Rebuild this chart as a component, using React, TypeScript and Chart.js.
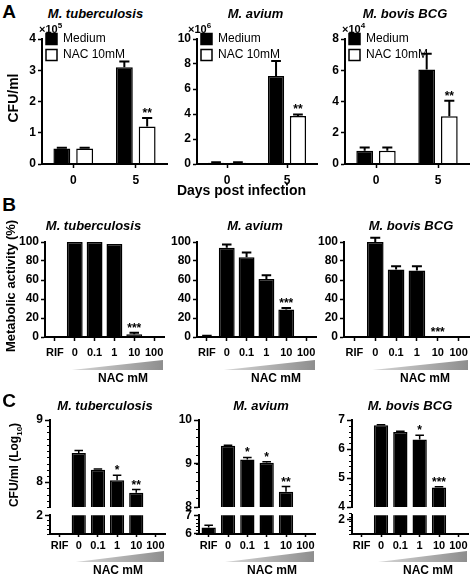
import React, { useEffect, useRef } from 'react';
import { Chart, registerables } from 'chart.js';

const FONT = "'Liberation Sans', Arial, Helvetica, sans-serif";

// ---------- Panel A data (CFU/ml, scaled units) ----------
const dayLabels = ['0', '5'];
const seriesNames = ['Medium', 'NAC 10mM'];
const mtbA_Medium = [0.5, 3.1];
const mtbA_MediumErr = [0.02, 0.18];
const mtbA_Nac = [0.5, 1.2];
const mtbA_NacErr = [0.02, 0.27];
const mtbA_NacSig = ['', '**'];
const aviumA_Medium = [0.1, 7.05];
const aviumA_MediumErr = [0.05, 1.2];
const aviumA_Nac = [0.1, 3.85];
const aviumA_NacErr = [0.05, 0.12];
const aviumA_NacSig = ['', '**'];
const bovisA_Medium = [0.85, 6.05];
const bovisA_MediumErr = [0.2, 1.0];
const bovisA_Nac = [0.85, 3.05];
const bovisA_NacErr = [0.2, 1.0];
const bovisA_NacSig = ['', '**'];
const scaleExpA = ['5', '6', '4'];

// ---------- Panel B data (metabolic activity %) ----------
const nacLabels = ['RIF', '0', '0.1', '1', '10', '100'];
const mtbB = [null, 100, 100, 98, 3, null];
const mtbBErr = [0, 0, 0, 0, 1.5, 0];
const mtbBSig = ['', '', '', '', '***', ''];
const aviumB = [1, 94, 84, 61, 29, null];
const aviumBErr = [0.3, 3.5, 5, 4, 1.5, 0];
const aviumBSig = ['', '', '', '', '***', ''];
const bovisB = [null, 100, 71, 70, 0, null];
const bovisBErr = [0, 4.5, 3.5, 4.5, 0, 0];
const bovisBSig = ['', '', '', '', '***', ''];

// ---------- Panel C data (CFU/ml, log10) ----------
const mtbC = [null, 8.47, 8.2, 8.03, 7.83, null];
const mtbCErr = [0, 0.04, 0.01, 0.08, 0.05, 0];
const mtbCSig = ['', '', '', '*', '**', ''];
const aviumC = [6.35, 9.41, 9.09, 9.02, 8.35, null];
const aviumCErr = [0.12, 0.01, 0.05, 0.02, 0.12, 0];
const aviumCSig = ['', '', '*', '*', '**', ''];
const bovisC = [null, 6.82, 6.59, 6.33, 4.67, null];
const bovisCErr = [0, 0.02, 0.02, 0.14, 0.03, 0];
const bovisCSig = ['', '', '', '*', '***', ''];

// ---------- plugins ----------
const errBarsPlugin = {
  id: 'errBars',
  afterDatasetsDraw(chart: any, _a: any, opts: any) {
    const sets = (opts && opts.sets) || [];
    const ctx = chart.ctx;
    const y = chart.scales.y;
    ctx.save();
    sets.forEach((s: any, di: number) => {
      const meta = chart.getDatasetMeta(di);
      const data = chart.data.datasets[di].data;
      meta.data.forEach((el: any, j: number) => {
        const v = data[j];
        if (v === null || v === undefined) return;
        if (v < y.min - 1e-9 || v > y.max + 1e-9) return;
        const e = s.err ? s.err[j] || 0 : 0;
        const x = el.x;
        const yv = y.getPixelForValue(v);
        const yt = y.getPixelForValue(v + e);
        if (e > 0) {
          ctx.strokeStyle = '#000';
          ctx.lineWidth = opts.lineWidth || 2;
          ctx.beginPath();
          ctx.moveTo(x, yv);
          ctx.lineTo(x, yt);
          const cw = (el.width * (opts.capRatio || 0.6)) / 2;
          ctx.moveTo(x - cw, yt);
          ctx.lineTo(x + cw, yt);
          ctx.stroke();
        }
        const sig = s.sig ? s.sig[j] : '';
        if (sig) {
          ctx.fillStyle = '#000';
          ctx.font = `bold ${opts.sigSize || 12}px ${FONT}`;
          ctx.textAlign = 'center';
          ctx.textBaseline = 'alphabetic';
          ctx.fillText(sig, x, yt - 1);
        }
      });
    });
    ctx.restore();
  },
};

const minorTicksPlugin = {
  id: 'minorTicks',
  afterDraw(chart: any, _a: any, opts: any) {
    if (!opts || !opts.step) return;
    const y = chart.scales.y;
    const ctx = chart.ctx;
    const x0 = chart.chartArea.left;
    const n = Math.round((y.max - y.min) / opts.step);
    ctx.save();
    ctx.strokeStyle = '#000';
    ctx.lineWidth = 1;
    ctx.beginPath();
    for (let i = 0; i <= n; i++) {
      const py = Math.round(y.getPixelForValue(y.min + i * opts.step)) + 0.5;
      ctx.moveTo(x0 - (opts.len || 3), py);
      ctx.lineTo(x0, py);
    }
    ctx.stroke();
    ctx.restore();
  },
};

const wedgePlugin = {
  id: 'wedge',
  afterDraw(chart: any, _a: any, opts: any) {
    if (!opts || !opts.show) return;
    const ctx = chart.ctx;
    const xs = chart.scales.x;
    const x0 = xs.getPixelForTick(opts.fromTick) - opts.tipOffset;
    const x1 = chart.chartArea.right - 1;
    const yb = chart.chartArea.bottom + opts.bottomOffset;
    const yt = yb - opts.height;
    const g = ctx.createLinearGradient(x0, 0, x1, 0);
    g.addColorStop(0, '#d6d6d6');
    g.addColorStop(1, '#8e8e8e');
    ctx.save();
    ctx.fillStyle = g;
    ctx.beginPath();
    ctx.moveTo(x0, yb);
    ctx.lineTo(x1, yb);
    ctx.lineTo(x1, yt);
    ctx.closePath();
    ctx.fill();
    ctx.restore();
  },
};

Chart.register(...registerables, errBarsPlugin, minorTicksPlugin, wedgePlugin);

const YW = 34;
const PR = 5;

function place(axisX: number, right: number, top: number, bottom: number, padTop: number, xh: number, padBottom: number) {
  return {
    x: axisX - YW,
    y: top - padTop,
    w: right - axisX + YW + PR,
    h: bottom - top + padTop + xh + padBottom,
  };
}

function makeConfig(p: any): any {
  return {
    type: 'bar',
    data: {
      labels: p.labels,
      datasets: p.series.map((s: any) => ({
        label: s.label,
        data: s.data,
        backgroundColor: s.fill,
        borderColor: '#000',
        borderWidth: 1.5,
        borderSkipped: 'start',
        clip: p.clip,
        barPercentage: p.barPct,
        categoryPercentage: p.catPct,
      })),
    },
    options: {
      responsive: false,
      animation: false,
      devicePixelRatio: 1,
      events: [],
      layout: { padding: { left: 0, right: PR, top: p.padTop, bottom: p.padBottom } },
      scales: {
        x: {
          type: 'category',
          offset: true,
          display: p.xh > 0,
          afterFit: p.xh > 0 ? (s: any) => { s.height = p.xh; } : undefined,
          border: { display: true, color: '#000', width: 2, z: 1 },
          grid: { offset: false, drawOnChartArea: false, drawTicks: true, tickLength: p.xTickLen, tickColor: '#000', tickWidth: 1.5, color: '#000' },
          ticks: { color: '#000', font: { family: FONT, size: p.xFont, weight: 'bold' }, padding: p.xPad, maxRotation: 0, autoSkip: false },
        },
        y: {
          type: 'linear',
          min: p.yMin,
          max: p.yMax,
          afterFit: (s: any) => { s.width = YW; },
          border: { display: true, color: '#000', width: 2 },
          grid: { drawOnChartArea: false, drawTicks: true, tickLength: p.yTickLen, tickColor: '#000', tickWidth: 1.5, color: '#000' },
          ticks: { stepSize: p.yStep, includeBounds: false, color: '#000', font: { family: FONT, size: 12, weight: 'bold' }, padding: 2, autoSkip: false },
        },
      },
      plugins: {
        legend: p.legend
          ? {
              display: true,
              position: 'chartArea',
              align: 'start',
              labels: { boxWidth: 11, boxHeight: 11, padding: 4, color: '#000', font: { family: FONT, size: 12 } },
            }
          : { display: false },
        title: { display: false },
        tooltip: { enabled: false },
        errBars: { sets: p.series.map((s: any) => ({ err: s.err, sig: s.sig })), lineWidth: p.errLw || 2, capRatio: 0.6, sigSize: 12 },
        minorTicks: { step: p.minorStep || 0, len: 3 },
        wedge: p.wedge || { show: false },
      },
    },
  };
}

function aConfig(med: number[], medErr: number[], nac: number[], nacErr: number[], nacSig: string[], yMax: number, yStep: number) {
  return makeConfig({
    labels: dayLabels,
    series: [
      { label: seriesNames[0], data: med, fill: '#000', err: medErr },
      { label: seriesNames[1], data: nac, fill: '#fff', err: nacErr, sig: nacSig },
    ],
    yMin: 0, yMax, yStep, padTop: 10, padBottom: 2, xh: 24, xFont: 12, xTickLen: 4, xPad: 5, yTickLen: 4,
    legend: true, barPct: 0.74, catPct: 0.73,
  });
}

const wedgeB = { show: true, fromTick: 1, tipOffset: 3, bottomOffset: 33, height: 10 };
function bConfig(vals: any[], err: number[], sig: string[]) {
  return makeConfig({
    labels: nacLabels,
    series: [{ label: 'activity', data: vals, fill: '#000', err, sig }],
    yMin: 0, yMax: 100, yStep: 20, padTop: 10, padBottom: 16, xh: 22, xFont: 11, xTickLen: 4, xPad: 5, yTickLen: 4,
    legend: false, barPct: 0.8, catPct: 1, wedge: wedgeB,
  });
}

const wedgeC = { show: true, fromTick: 1, tipOffset: 3, bottomOffset: 28, height: 11 };
function cUpper(vals: any[], err: number[], sig: string[], yMin: number, yMax: number, minor: number) {
  return makeConfig({
    labels: nacLabels,
    series: [{ label: 'cfu', data: vals, fill: '#000', err, sig }],
    yMin, yMax, yStep: 1, padTop: 10, padBottom: 10, xh: 0, xFont: 11, xTickLen: 3, xPad: 2, yTickLen: 5,
    legend: false, barPct: 0.74, catPct: 1, clip: 0, minorStep: minor, errLw: 1.5,
  });
}
function cLower(vals: any[], err: number[], yMin: number, yMax: number, minor: number) {
  return makeConfig({
    labels: nacLabels,
    series: [{ label: 'cfu', data: vals, fill: '#000', err }],
    yMin, yMax, yStep: 1, padTop: 8, padBottom: 12, xh: 19, xFont: 11, xTickLen: 3, xPad: 2, yTickLen: 5,
    legend: false, barPct: 0.74, catPct: 1, clip: 0, minorStep: minor, errLw: 1.5, wedge: wedgeC,
  });
}

const specs: { g: any; cfg: () => any }[] = [
  { g: place(42, 167, 39, 164, 10, 24, 2), cfg: () => aConfig(mtbA_Medium, mtbA_MediumErr, mtbA_Nac, mtbA_NacErr, mtbA_NacSig, 4, 1) },
  { g: place(197, 317, 39, 164, 10, 24, 2), cfg: () => aConfig(aviumA_Medium, aviumA_MediumErr, aviumA_Nac, aviumA_NacErr, aviumA_NacSig, 10, 2) },
  { g: place(345, 469, 39, 164, 10, 24, 2), cfg: () => aConfig(bovisA_Medium, bovisA_MediumErr, bovisA_Nac, bovisA_NacErr, bovisA_NacSig, 8, 2) },
  { g: place(45, 164, 242, 337, 10, 22, 16), cfg: () => bConfig(mtbB, mtbBErr, mtbBSig) },
  { g: place(197, 316, 242, 337, 10, 22, 16), cfg: () => bConfig(aviumB, aviumBErr, aviumBSig) },
  { g: place(344, 469, 242, 337, 10, 22, 16), cfg: () => bConfig(bovisB, bovisBErr, bovisBSig) },
  { g: place(50, 165, 420, 507, 10, 0, 10), cfg: () => cUpper(mtbC, mtbCErr, mtbCSig, 7.6, 9, 0.1) },
  { g: place(50, 165, 514, 534, 8, 19, 12), cfg: () => cLower(mtbC, mtbCErr, 1.6, 2, 0.1) },
  { g: place(199, 315, 420, 507, 10, 0, 10), cfg: () => cUpper(aviumC, aviumCErr, aviumCSig, 8, 10, 0.2) },
  { g: place(199, 315, 514, 534, 8, 19, 12), cfg: () => cLower(aviumC, aviumCErr, 6, 7, 0.2) },
  { g: place(352, 468, 420, 507, 10, 0, 10), cfg: () => cUpper(bovisC, bovisCErr, bovisCSig, 4, 7, 0.2) },
  { g: place(352, 468, 514, 534, 8, 19, 12), cfg: () => cLower(bovisC, bovisCErr, 1.3, 2.2, 0.2) },
];

function Txt(props: { cx: number; cy: number; size: number; italic?: boolean; rot?: boolean; children: any }) {
  return (
    <div
      style={{
        position: 'absolute',
        left: props.cx,
        top: props.cy,
        transform: `translate(-50%, -50%)${props.rot ? ' rotate(-90deg)' : ''}`,
        fontFamily: FONT,
        fontWeight: 'bold',
        fontStyle: props.italic ? 'italic' : 'normal',
        fontSize: props.size,
        lineHeight: 1,
        whiteSpace: 'nowrap',
        color: '#000',
        zIndex: 2,
      }}
    >
      {props.children}
    </div>
  );
}

function Exp(props: { x: number; exp: string }) {
  return (
    <div style={{ position: 'absolute', left: props.x, top: 22, fontFamily: FONT, fontWeight: 'bold', fontSize: 11, lineHeight: 1, whiteSpace: 'nowrap', zIndex: 2 }}>
      ×10<sup style={{ fontSize: 8, verticalAlign: 'super' }}>{props.exp}</sup>
    </div>
  );
}

const titleA = [{ t: 'M. tuberculosis', x: 95.5 }, { t: 'M. avium', x: 255.5 }, { t: 'M. bovis BCG', x: 405 }];
const titleB = [93.5, 255, 411];
const titleC = [105, 261, 410];
const nacB = [123, 276, 425];
const nacC = [118, 272, 428];
const expX = [39, 188, 342];

export default function App() {
  const refs = useRef<(HTMLCanvasElement | null)[]>([]);
  useEffect(() => {
    const charts = specs.map((s, i) => new Chart(refs.current[i] as HTMLCanvasElement, s.cfg()));
    return () => charts.forEach((c) => c.destroy());
  }, []);
  return (
    <div style={{ position: 'absolute', left: 0, top: 0, width: 472, height: 578, background: '#fff', overflow: 'hidden' }}>
      {specs.map((s, i) => (
        <canvas
          key={i}
          ref={(el) => { refs.current[i] = el; }}
          width={s.g.w}
          height={s.g.h}
          style={{ position: 'absolute', left: s.g.x, top: s.g.y, width: s.g.w, height: s.g.h }}
        />
      ))}
      <Txt cx={9} cy={11} size={19}>A</Txt>
      <Txt cx={9} cy={204} size={19}>B</Txt>
      <Txt cx={9} cy={400} size={19}>C</Txt>
      {titleA.map((t, i) => (
        <Txt key={'ta' + i} cx={t.x} cy={13} size={13} italic>{t.t}</Txt>
      ))}
      {titleA.map((t, i) => (
        <Txt key={'tb' + i} cx={titleB[i]} cy={225} size={13} italic>{t.t}</Txt>
      ))}
      {titleA.map((t, i) => (
        <Txt key={'tc' + i} cx={titleC[i]} cy={405} size={13} italic>{t.t}</Txt>
      ))}
      {expX.map((x, i) => (
        <Exp key={'e' + i} x={x} exp={scaleExpA[i]} />
      ))}
      <Txt cx={13} cy={98} size={14} rot>CFU/ml</Txt>
      <Txt cx={241.5} cy={190} size={14}>Days post infection</Txt>
      <Txt cx={10} cy={286} size={13} rot>Metabolic activity (%)</Txt>
      <Txt cx={16} cy={465} size={12} rot>
        CFU/ml (Log<sub style={{ fontSize: 8 }}>10</sub>)
      </Txt>
      {nacB.map((x, i) => (
        <Txt key={'nb' + i} cx={x} cy={378} size={12}>NAC mM</Txt>
      ))}
      {nacC.map((x, i) => (
        <Txt key={'nc' + i} cx={x} cy={570} size={12}>NAC mM</Txt>
      ))}
    </div>
  );
}
